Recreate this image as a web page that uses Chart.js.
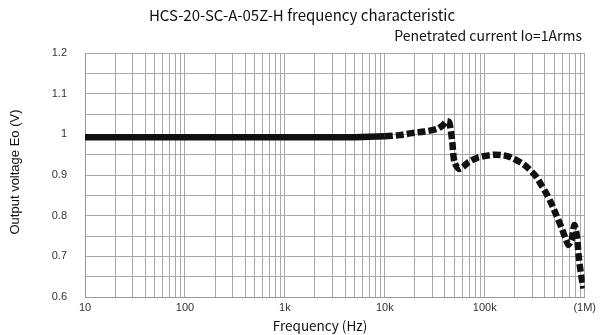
<!DOCTYPE html>
<html>
<head>
<meta charset="utf-8">
<script src="https://cdn.jsdelivr.net/npm/chart.js@4"></script>
<style>
  html, body { margin: 0; padding: 0; background: #fff; }
  #wrap { width: 600px; height: 335px; }
</style>
</head>
<body>
<div id="wrap"><canvas id="freqChart" width="600" height="335"></canvas></div>
<script>
// --- Data ---
const freqs = [10, 100, 1000, 5000, 10000, 14000, 18600, 25000, 33000, 38000, 41500, 44000,
    46000, 47500, 49600, 55000, 62000, 68000, 85000, 126000, 171000, 232000, 260000, 327000,
    367000, 412000, 462000, 518000, 581000, 652000, 687000, 720000, 741000, 788000, 837000,
    871000, 906000, 970000];
const volts = [0.993, 0.993, 0.993, 0.993, 0.995, 0.998, 1.003, 1.007, 1.013, 1.022, 1.032, 1.030,
    1.005, 0.978, 0.933, 0.915, 0.922, 0.931, 0.943, 0.950, 0.946, 0.930, 0.921, 0.896,
    0.876, 0.855, 0.831, 0.802, 0.773, 0.740, 0.728, 0.735, 0.740, 0.777, 0.748,
    0.699, 0.666, 0.621];
const decades = [10, 100, 1000, 10000, 100000, 1000000];
const xTickLabels = ['10', '100', '1k', '10k', '100k', '(1M)'];
const yMin = 0.6, yMax = 1.2, yStep = 0.05;

const titleText = 'HCS-20-SC-A-05Z-H frequency characteristic';
const subtitleText = 'Penetrated current Io=1Arms';
const xTitle = 'Frequency (Hz)';
const yTitle = 'Output voltage Eo (V)';

const gothic = "'Noto Sans CJK JP', 'Noto Sans', sans-serif";
const arial = "'Liberation Sans', Arial, sans-serif";

// titles drawn at fixed spots like the scanned figure
const textPlugin = {
    id: 'texts',
    afterDraw(chart) {
        const ctx = chart.ctx;
        ctx.save();
        ctx.fillStyle = '#111';
        ctx.textBaseline = 'middle';
        ctx.textAlign = 'center';
        ctx.font = `15px ${gothic}`;
        ctx.fillText(titleText, 302, 15);
        ctx.textAlign = 'right';
        ctx.font = `14px ${gothic}`;
        ctx.fillText(subtitleText, 582, 36);
        ctx.textAlign = 'center';
        ctx.font = `13.5px ${gothic}`;
        ctx.fillText(xTitle, 320, 326);
        ctx.font = `13px ${arial}`;
        ctx.translate(15, 172);
        ctx.rotate(-Math.PI / 2);
        ctx.fillText(yTitle, 0, 0);
        ctx.restore();
    }
};

const data = freqs.map((f, i) => ({ x: f, y: volts[i] }));

new Chart(document.getElementById('freqChart').getContext('2d'), {
    type: 'line',
    data: {
        datasets: [{
            data: data,
            borderColor: '#111',
            borderWidth: 6.5,
            borderCapStyle: 'butt',
            pointRadius: 0,
            tension: 0.25,
            segment: {
                borderDash: ctx => ctx.p0.parsed.x >= 10000 ? [8, 3] : undefined
            }
        }]
    },
    options: {
        responsive: false,
        animation: false,
        layout: { padding: { left: 0, top: 53, right: 13, bottom: 0 } },
        plugins: { legend: { display: false }, tooltip: { enabled: false } },
        scales: {
            x: {
                type: 'logarithmic',
                min: 10,
                max: 1000000,
                afterBuildTicks: scale => {
                    const t = [];
                    decades.forEach((d, i) => {
                        if (i === decades.length - 1) { t.push({ value: d }); return; }
                        for (let m = 1; m < 10; m++) t.push({ value: d * m });
                    });
                    scale.ticks = t;
                },
                afterFit: scale => { scale.height = 38; },
                ticks: {
                    autoSkip: false,
                    maxRotation: 0,
                    padding: 4,
                    color: '#333',
                    font: { family: arial, size: 11 },
                    callback: v => {
                        const i = decades.indexOf(v);
                        return i >= 0 ? xTickLabels[i] : '';
                    }
                },
                grid: { color: '#a8a8a8', lineWidth: 1, drawTicks: false },
                border: { color: '#999', width: 1 }
            },
            y: {
                min: yMin,
                max: yMax,
                afterFit: scale => { scale.width = 85; },
                ticks: {
                    stepSize: yStep,
                    padding: 18,
                    color: '#333',
                    font: { family: arial, size: 11 },
                    callback: v => Math.round(v * 100) % 10 === 0 ? String(Math.round(v * 10) / 10) : ''
                },
                grid: { color: '#a8a8a8', lineWidth: 1, drawTicks: false },
                border: { color: '#999', width: 1 }
            }
        }
    },
    plugins: [textPlugin]
});
</script>
</body>
</html>
